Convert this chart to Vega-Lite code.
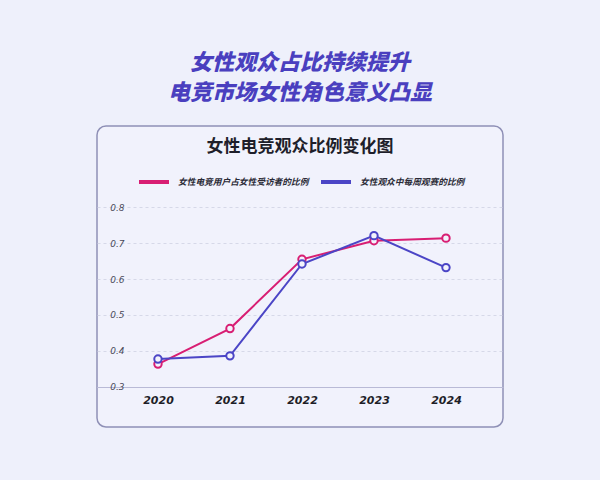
{
  "$schema": "https://vega.github.io/schema/vega-lite/v6.json",
  "autosize": {"type": "none"},
  "width": 406,
  "height": 301,
  "padding": {"left": 97, "top": 126, "right": 97, "bottom": 53},
  "background": "#eef0fb",
  "title": {
    "text": ["女性观众占比持续提升", "电竞市场女性角色意义凸显"],
    "subtitle": "女性电竞观众比例变化图",
    "anchor": "middle",
    "frame": "group",
    "offset": -30,
    "font": "Noto Sans CJK SC",
    "fontSize": 22,
    "fontWeight": 900,
    "fontStyle": "italic",
    "color": "#4a3fbf",
    "lineHeight": 30,
    "subtitleFont": "Noto Sans CJK SC",
    "subtitleFontSize": 17,
    "subtitleFontWeight": "bold",
    "subtitleColor": "#1e1e2a",
    "subtitlePadding": 34
  },
  "data": {
    "values": [
      {"year": 2020, "series": "女性电竞用户占女性受访者的比例", "value": 0.363},
      {"year": 2021, "series": "女性电竞用户占女性受访者的比例", "value": 0.462},
      {"year": 2022, "series": "女性电竞用户占女性受访者的比例", "value": 0.655},
      {"year": 2023, "series": "女性电竞用户占女性受访者的比例", "value": 0.707},
      {"year": 2024, "series": "女性电竞用户占女性受访者的比例", "value": 0.714},
      {"year": 2020, "series": "女性观众中每周观赛的比例", "value": 0.377},
      {"year": 2021, "series": "女性观众中每周观赛的比例", "value": 0.386},
      {"year": 2022, "series": "女性观众中每周观赛的比例", "value": 0.642},
      {"year": 2023, "series": "女性观众中每周观赛的比例", "value": 0.721},
      {"year": 2024, "series": "女性观众中每周观赛的比例", "value": 0.632}
    ]
  },
  "encoding": {
    "x": {
      "field": "year",
      "type": "quantitative",
      "scale": {"domain": [2019.153, 2024.792], "nice": false, "zero": false},
      "axis": {
        "values": [2020, 2021, 2022, 2023, 2024],
        "format": "d",
        "title": null,
        "offset": -40,
        "grid": false,
        "ticks": false,
        "domainColor": "#b9bad6",
        "domainWidth": 1.2,
        "labelFont": "DejaVu Sans",
        "labelFontSize": 11,
        "labelFontWeight": "bold",
        "labelFontStyle": "italic",
        "labelColor": "#1e1e28",
        "labelPadding": 7
      }
    },
    "y": {
      "field": "value",
      "type": "quantitative",
      "scale": {"domain": [0.1877, 1.0266], "nice": false, "zero": false},
      "axis": {
        "values": [0.3, 0.4, 0.5, 0.6, 0.7, 0.8],
        "format": ".1f",
        "title": null,
        "offset": -33,
        "domain": false,
        "ticks": false,
        "grid": true,
        "gridDash": [3, 3],
        "gridColor": "#cfd0e2",
        "gridWidth": 0.8,
        "labelFont": "DejaVu Sans",
        "labelFontSize": 9,
        "labelFontStyle": "italic",
        "labelColor": "#4a4a5a",
        "labelPadding": 6
      }
    },
    "color": {
      "field": "series",
      "type": "nominal",
      "scale": {
        "domain": ["女性电竞用户占女性受访者的比例", "女性观众中每周观赛的比例"],
        "range": ["#d81e73", "#4b45c6"]
      },
      "legend": {
        "title": null,
        "orient": "none",
        "legendX": 40,
        "legendY": 39,
        "direction": "horizontal",
        "symbolType": "stroke",
        "symbolSize": 900,
        "symbolStrokeWidth": 4,
        "labelFont": "Noto Sans CJK SC",
        "labelFontSize": 8.7,
        "labelFontWeight": "bold",
        "labelFontStyle": "italic",
        "labelColor": "#2a2a36",
        "labelOffset": 7,
        "columnPadding": 4
      }
    }
  },
  "layer": [
    {"mark": {"type": "line", "strokeWidth": 2}},
    {"mark": {"type": "point", "filled": false, "fill": "#f3f3fc", "size": 55, "strokeWidth": 2, "opacity": 1}}
  ],
  "config": {
    "view": {"fill": "#f1f2fc", "stroke": "#8f90b6", "strokeWidth": 1.5, "cornerRadius": 9}
  }
}
